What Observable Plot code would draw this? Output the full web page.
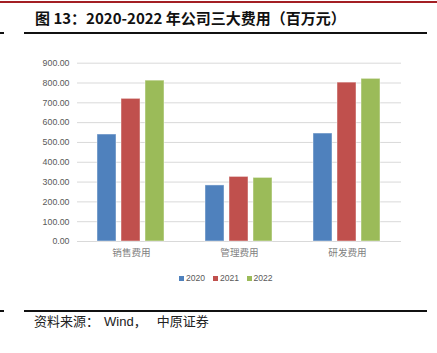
<!DOCTYPE html>
<html>
<head>
<meta charset="utf-8">
<script src="https://cdn.jsdelivr.net/npm/d3@7"></script>
<script src="https://cdn.jsdelivr.net/npm/@observablehq/plot@0.6"></script>
<style>
  html, body { margin: 0; padding: 0; background: #fff; width: 437px; height: 353px; overflow: hidden; }
  #wrap { position: relative; width: 437px; height: 353px; }
  .abs { position: absolute; }
  #redline { left: 0; top: 1px; width: 437px; height: 2px; background: #A31F24; }
  #title { left: 35px; top: 8px; font-family: "Noto Sans CJK SC", sans-serif; font-weight: bold; font-size: 15px; line-height: 20px; color: #111; white-space: nowrap; }
  .rule { height: 2px; background: #111; }
  #chart { left: 0; top: 40px; }
  #legend { left: 0; top: 271px; width: 437px; height: 14px; font-family: "Liberation Sans", Arial, sans-serif; font-size: 8.6px; color: #595959; }
  .li { position: absolute; top: 0; line-height: 14px; white-space: nowrap; }
  .sw { display: inline-block; width: 5px; height: 5px; margin-right: 2px; vertical-align: 0px; }
  #source { left: 34px; top: 312px; font-family: "Noto Sans CJK SC", sans-serif; font-size: 13px; line-height: 18px; color: #222; white-space: nowrap; }
  #source .en { font-family: "Liberation Sans", Arial, sans-serif; margin-left: 5px; }
  #source .gap { margin-left: 10px; }
</style>
</head>
<body>
<div id="wrap">
  <div id="redline" class="abs"></div>
  <div id="title" class="abs">图 13：2020-2022 年公司三大费用（百万元）</div>
  <div class="abs rule" style="left:0;top:31.5px;width:4px;"></div>
  <div class="abs rule" style="left:24px;top:31.5px;width:403px;"></div>
  <div id="chart" class="abs"></div>
  <div id="legend" class="abs"></div>
  <div class="abs rule" style="left:0;top:309.5px;width:4px;"></div>
  <div class="abs rule" style="left:24px;top:309.5px;width:403px;"></div>
  <div id="source" class="abs">资料来源：<span class="en">Wind</span>，<span class="gap">中原证券</span></div>
</div>
<script>
const categories = ["销售费用", "管理费用", "研发费用"];
const years = ["2020", "2021", "2022"];
const colors = ["#4F81BD", "#C0504D", "#9BBB59"];
const values2020 = [540, 283, 545];
const values2021 = [720, 326, 802];
const values2022 = [812, 321, 821];
const yTicks = [0, 100, 200, 300, 400, 500, 600, 700, 800, 900];

const series = [values2020, values2021, values2022];
const data = [];
categories.forEach((c, i) => {
  years.forEach((y, j) => data.push({category: c, year: y, value: series[j][i]}));
});

const chart = Plot.plot({
  width: 437,
  height: 230,
  marginLeft: 77,
  marginRight: 36,
  marginTop: 22.7,
  marginBottom: 29,
  style: {fontFamily: "Liberation Sans, Arial, sans-serif", background: "transparent"},
  fx: {domain: categories, padding: 0, label: null, axis: null},
  x: {domain: years, paddingInner: 0.2, paddingOuter: 0.82, axis: null},
  y: {domain: [0, 900], ticks: yTicks, label: null},
  color: {domain: years, range: colors},
  marks: [
    Plot.ruleY(yTicks, {stroke: "#D9D9D9", strokeWidth: 1}),
    Plot.barY(data, {fx: "category", x: "year", y: "value", fill: "year", stroke: "#ffffff", strokeOpacity: 0.45, strokeWidth: 1}),
    Plot.axisY(yTicks, {tickSize: 0, tickPadding: 8, tickFormat: d => d.toFixed(2), fontSize: 8.8, fill: "#595959"}),
    Plot.axisFx({anchor: "bottom", tickSize: 0, tickPadding: 8, fontSize: 9.6, fill: "#7f7f7f", fontFamily: "Noto Sans CJK SC, sans-serif", label: null})
  ]
});
document.getElementById("chart").appendChild(chart);

const legend = document.getElementById("legend");
const lx = [179, 213, 246.5];
years.forEach((y, j) => {
  const d = document.createElement("div");
  d.className = "li";
  d.style.left = lx[j] + "px";
  d.innerHTML = `<span class="sw" style="background:${colors[j]}"></span>${y}`;
  legend.appendChild(d);
});
</script>
</body>
</html>
